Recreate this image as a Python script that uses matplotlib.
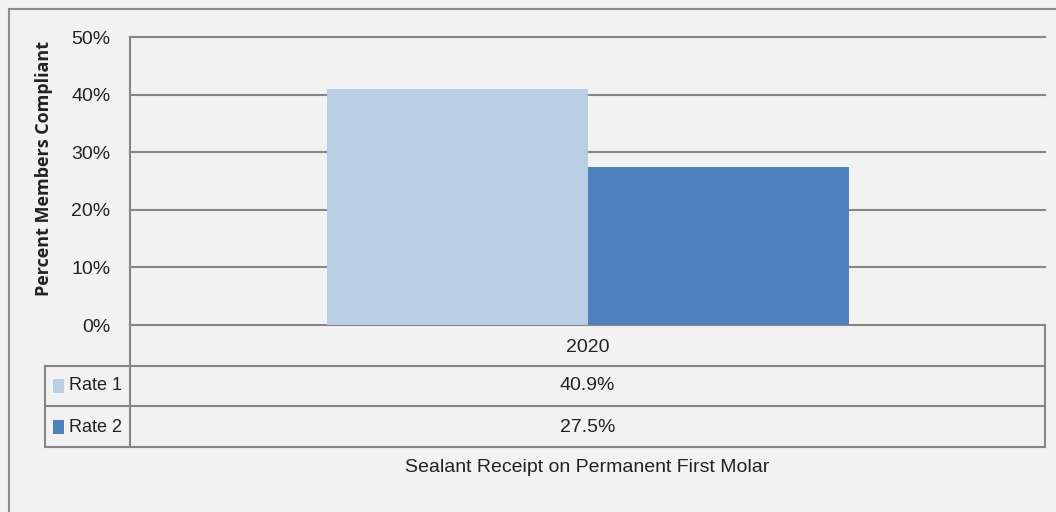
import matplotlib
matplotlib.use("Agg")
import matplotlib.pyplot as plt
from matplotlib.patches import Rectangle
from matplotlib.lines import Line2D

categories = ["2020"]
series_names = ["Rate 1", "Rate 2"]
rate1 = [40.9]
rate2 = [27.5]
yticks = [0, 10, 20, 30, 40, 50]
ylabel = "Percent Members Compliant"
xtitle = "Sealant Receipt on Permanent First Molar"
colors = ["#b9cde5", "#4f81bd"]

W, H = 1056, 512
plt.rcParams['font.family'] = ['Liberation Sans', 'DejaVu Sans']
fig = plt.figure(figsize=(W / 100, H / 100), dpi=100)
fig.patch.set_facecolor("#f2f2f2")

def fx(px):
    return px / W

def fy(py):
    return 1 - py / H

GRID = "#868686"
FS = 14
TXT = "#222222"
# outer border
fig.add_artist(Rectangle((fx(9), fy(520)), fx(1100), fy(9) - fy(520), fill=False,
                         edgecolor="#8c8c8c", lw=1.5, transform=fig.transFigure))

L, R, T, B = 130, 1045, 37, 325
ax = fig.add_axes([fx(L), fy(B), fx(R - L), fy(T) - fy(B)])
ax.set_facecolor("none")
for s in ax.spines.values():
    s.set_visible(False)
ax.set_xlim(-0.5, 0.5)
ax.set_ylim(0, 50)
bw = 261 / 915
for i, c in enumerate(categories):
    ax.bar(i - bw / 2, rate1[i], width=bw, color=colors[0], zorder=3)
    ax.bar(i + bw / 2, rate2[i], width=bw, color=colors[1], zorder=3)
ax.set_yticks(yticks)
ax.set_yticklabels([f"{v}%" for v in yticks], fontsize=FS, color=TXT)
ax.tick_params(axis="y", length=0, pad=14)
ax.set_xticks([])
ax.yaxis.grid(True, color=GRID, lw=1.5, zorder=0)
for gl in ax.get_ygridlines():
    gl.set_clip_on(False)
vl = ax.axvline(-0.5, color=GRID, lw=1.5, zorder=1)
vl.set_clip_on(False)

def hline(y, x0, x1):
    fig.add_artist(Line2D([fx(x0), fx(x1)], [fy(y), fy(y)], color=GRID, lw=1.5,
                          transform=fig.transFigure))

def vline(x, y0, y1):
    fig.add_artist(Line2D([fx(x), fx(x)], [fy(y0), fy(y1)], color=GRID, lw=1.5,
                          transform=fig.transFigure))

# data table lines
vline(L, B, 447)
vline(R, B, 447)
vline(45, 366, 447)
for y in (366, 406, 447):
    hline(y, 45, R)

cx = fx((L + R) / 2)
fig.text(cx, fy(347), categories[0], ha="center", va="center", fontsize=FS, color=TXT)
fig.text(cx, fy(386), f"{rate1[0]}%", ha="center", va="center", fontsize=FS, color=TXT)
fig.text(cx, fy(427), f"{rate2[0]}%", ha="center", va="center", fontsize=FS, color=TXT)

for i, (name, col, yc) in enumerate(zip(series_names, colors, (386, 427))):
    fig.add_artist(Rectangle((fx(53), fy(yc + 7)), fx(11), fy(yc - 7) - fy(yc + 7),
                             facecolor=col, edgecolor="none", transform=fig.transFigure))
    fig.text(fx(69), fy(yc), name, ha="left", va="center", fontsize=13, color=TXT)

fig.text(cx, fy(468), xtitle, ha="center", va="center", fontsize=FS, color=TXT)
fig.text(fx(44), fy(168), ylabel, ha="center", va="center", rotation=90,
         fontsize=13, fontweight="bold", color=TXT, family=['Open Sans', 'DejaVu Sans'])

fig.savefig("out.png", dpi=100, facecolor=fig.get_facecolor())
